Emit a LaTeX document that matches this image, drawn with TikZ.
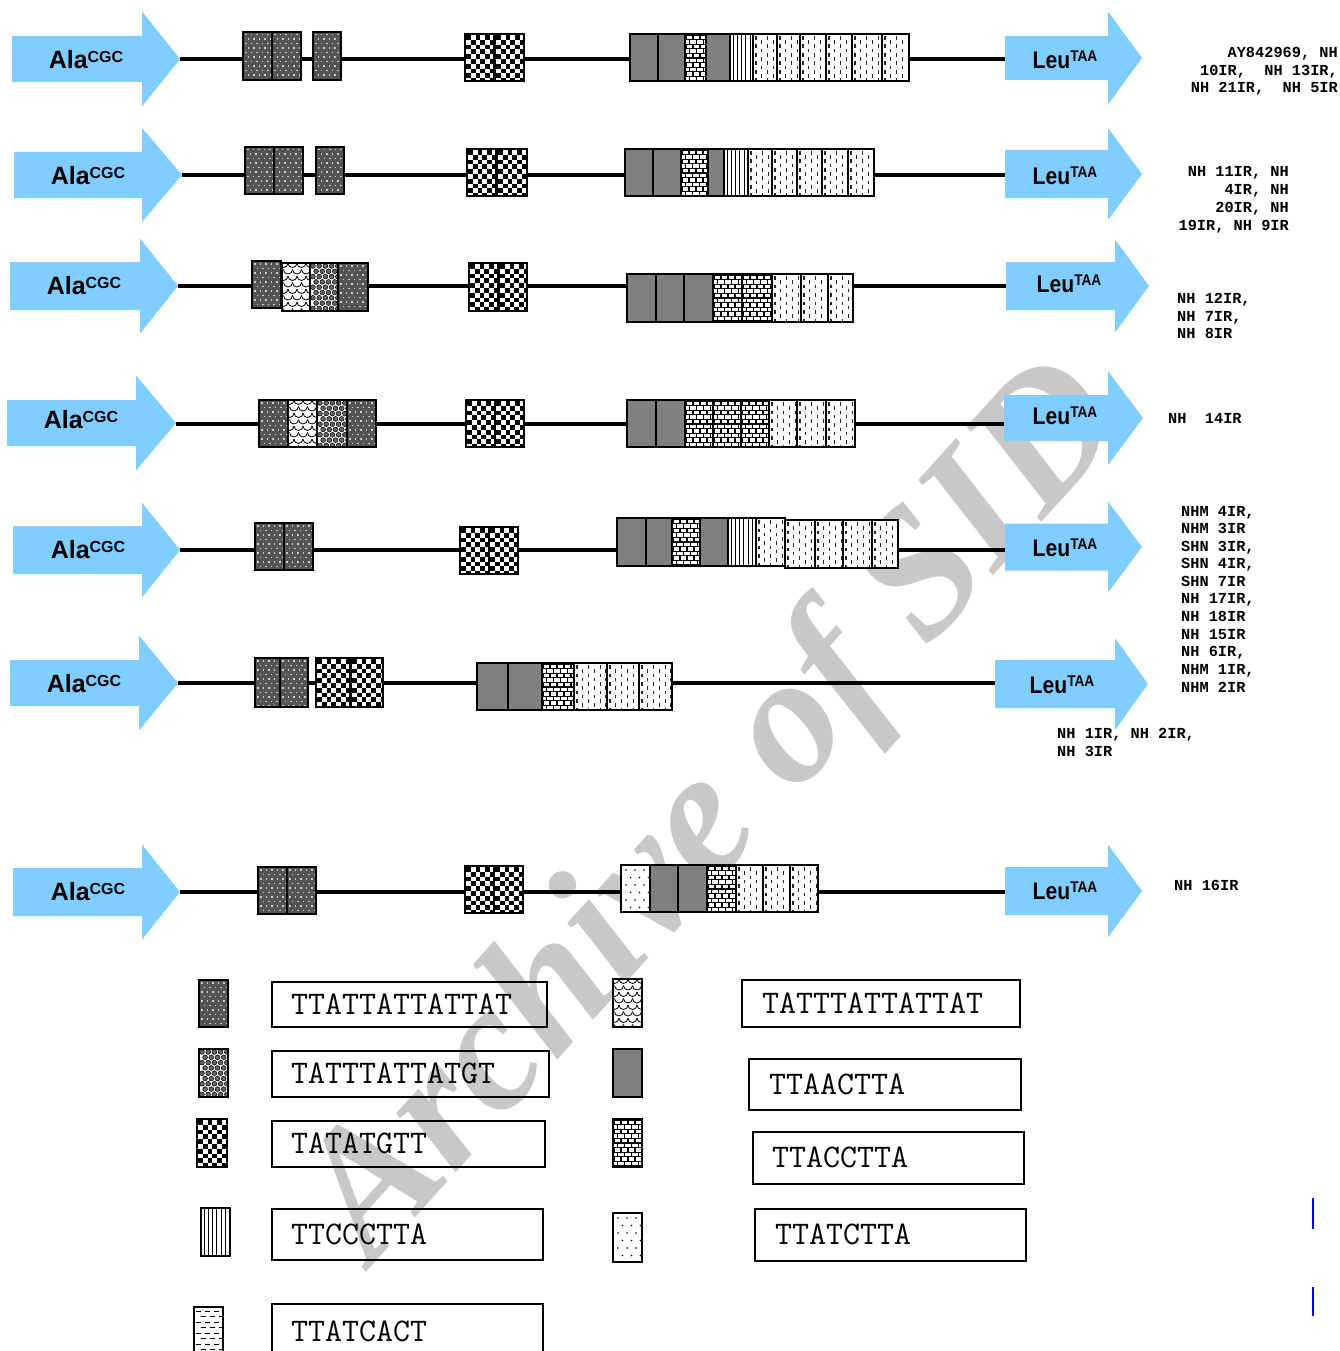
\documentclass[tikz,border=0pt]{standalone}
\usepackage{fontspec}
\usepackage{graphicx}
\newfontfamily\arialf{Liberation Sans}
\newfontfamily\courbf{Liberation Mono}
\newfontfamily\timesf{Liberation Serif}
\definecolor{arrowblue}{RGB}{128,206,255}
\definecolor{darkfill}{RGB}{85,85,85}
\definecolor{midgray}{RGB}{128,128,128}
\definecolor{dotlight}{RGB}{205,205,205}
\definecolor{wmgray}{RGB}{200,200,200}
\definecolor{bubfill}{RGB}{100,100,100}

% pattern fillers: #1 x1, #2 y1, #3 x2, #4 y2
\newcommand\patG[4]{\fill[midgray] (#1,#2) rectangle (#3,#4);}
\newcommand\patD[4]{\fill[darkfill] (#1,#2) rectangle (#3,#4);
 \foreach \j in {0,...,11}{\foreach \i in {0,...,6}{
  \fill[dotlight] ({#1+2+\i*5.5+mod(\j,2)*2.75},{#2+2+\j*4.5}) rectangle ++(1.5,1.5);}}}
\newcommand\patK[4]{\fill[white] (#1,#2) rectangle (#3,#4);
 \foreach \j in {0,...,11}{\foreach \i in {0,...,4}{
  \fill[black] ({#1+1+(2*\i+mod(\j,2))*4.8},{#2+1+\j*4.8}) rectangle ++(4.8,4.8);}}}
\newcommand\patB[4]{\fill[white] (#1,#2) rectangle (#3,#4);
 \foreach \j in {0,...,10}{\foreach \i in {0,...,5}{
  \filldraw[fill=bubfill, draw=black, line width=0.5pt] ({#1+3+\i*6.2+mod(\j,2)*3.1},{#2+3+\j*5.3}) circle[radius=2.4pt];}}}
\newcommand\patS[4]{\fill[white] (#1,#2) rectangle (#3,#4);
 \foreach \j in {0,...,8}{\foreach \i in {0,...,4}{
  \draw[line width=0.8pt] ({#1-3+\i*9+mod(\j,2)*4.5},{#2+\j*6.5}) arc[start angle=180, end angle=360, radius=4.5pt];}}}
\newcommand\patR[4]{\fill[white] (#1,#2) rectangle (#3,#4);
 \foreach \j in {0,...,11}{
  \draw[line width=1.1pt] (#1,{#2+1+\j*4.6}) -- (#3,{#2+1+\j*4.6});
  \foreach \i in {0,...,5}{
   \draw[line width=1.1pt] ({#1+1+\i*7+mod(\j,2)*3.5},{#2+1+\j*4.6}) -- ++(0,4.6);}}}
\newcommand\patV[4]{\fill[white] (#1,#2) rectangle (#3,#4);
 \foreach \i in {0,...,9}{\draw[line width=1pt] ({#1+3+\i*4.3},#2) -- ({#1+3+\i*4.3},#4);}}
\newcommand\patH[4]{\fill[white] (#1,#2) rectangle (#3,#4);
 \foreach \j in {0,...,7}{\foreach \i in {0,...,6}{
  \draw[line width=1.1pt, black!85] ({#1+3+\i*5.8},{#2+2+\j*8.5+mod(\i,2)*4.2}) -- ++(0,3.6);}}}
\newcommand\patP[4]{\fill[white] (#1,#2) rectangle (#3,#4);
 \foreach \j in {0,...,7}{\foreach \i in {0,...,4}{
  \fill ({#1+5+\i*9+mod(\j,2)*4.5},{#2+5+\j*7.5}) circle[radius=0.8pt];}}}
\newcommand\patE[4]{\fill[white] (#1,#2) rectangle (#3,#4);
 \foreach \j in {0,...,12}{\foreach \i in {0,...,4}{
  \draw[line width=0.9pt] ({#1+2+\i*9+mod(\j,2)*4.5},{#2+4+\j*5.5}) -- ++(5,0);}}}

\newcommand\pbox[5]{%
 \begin{scope}
  \clip (#2,#3) rectangle (#4,#5);
  \csname pat#1\endcsname{#2}{#3}{#4}{#5}
 \end{scope}
 \draw[boxline] (#2,#3) rectangle (#4,#5);}

% arrow: #1 name, #2 x1, #3 xhead, #4 xtip, #5 yc, #6 body half, #7 head half
\newcommand\bigarrow[7]{%
 \fill[arrowblue] (#2,#5-#6) -- (#3,#5-#6) -- (#3,#5-#7) -- (#4,#5) -- (#3,#5+#7)
   -- (#3,#5+#6) -- (#2,#5+#6) -- cycle;
 \coordinate (#1tip) at (#4,#5);
 \coordinate (#1tail) at (#2,#5);}

\newcommand\alatxt{{\fontsize{25}{25}\selectfont Ala\raisebox{6.5pt}{\fontsize{16}{16}\selectfont CGC}}}
\newcommand\leutxt{\scalebox{0.88}[1]{\fontsize{24}{24}\selectfont Leu\raisebox{6.5pt}{\fontsize{15.5}{15.5}\selectfont TAA}}}

\tikzset{
 boxline/.style={draw=black, line width=1.8pt},
 dnaline/.style={line width=4.5pt, draw=black},
 amino/.style={font=\arialf\bfseries, inner sep=0pt},
 idl/.style={font=\courbf\bfseries\fontsize{15.3}{17}\selectfont, inner sep=0pt},
 legbox/.style={draw=black, line width=1.6pt, inner sep=0pt, anchor=north west},
 legtext/.style={font=\ttfamily\fontsize{33}{33}\selectfont, inner sep=0pt, anchor=west},
 wm/.style={font=\timesf\bfseries\itshape\fontsize{182}{182}\selectfont, text=wmgray, inner sep=0pt},
}

\begin{document}
\begin{tikzpicture}[x=1pt,y=-1pt]
\useasboundingbox (0,0) rectangle (1339,1351);
\clip (0,0) rectangle (1339,1351);
\fill[white] (0,0) rectangle (1339,1351);

% watermark
\node[wm, rotate=48] (wmark) at (718,815) {Archive of SID};

% arrows
\bigarrow{A1}{12}{142}{180}{59}{23}{47.5}
\bigarrow{L1}{1005}{1108}{1142}{58}{22}{46.5}
\bigarrow{A2}{14}{142}{182}{175}{23}{47}
\bigarrow{L2}{1005}{1108}{1142}{174}{24}{46}
\bigarrow{A3}{10}{140}{178}{286}{24}{47.5}
\bigarrow{L3}{1006}{1115}{1149}{286}{24}{46.5}
\bigarrow{A4}{7}{136}{176}{423}{23}{47.5}
\bigarrow{L4}{1004}{1108}{1143}{418}{23}{47}
\bigarrow{A5}{13}{142}{180}{550}{24}{47.5}
\bigarrow{L5}{1005}{1108}{1142}{547}{23.5}{45.5}
\bigarrow{A6}{10}{139}{178}{683}{23}{47.5}
\bigarrow{L6}{995}{1115}{1148}{684}{24}{46}
\bigarrow{A7}{13}{142}{180}{892}{24}{47.5}
\bigarrow{L7}{1005}{1108}{1142}{891}{24}{46.5}

% DNA lines
\draw[dnaline] (A1tip) -- (A1tip -| L1tail);
\draw[dnaline] (A2tip) -- (A2tip -| L2tail);
\draw[dnaline] (A3tip) -- (A3tip -| L3tail);
\draw[dnaline] (176,424) coordinate (A4line) -- (A4line -| L4tail);
\draw[dnaline] (A5tip) -- (A5tip -| L5tail);
\draw[dnaline] (A6tip) -- (A6tip -| L6tail);
\draw[dnaline] (A7tip) -- (A7tip -| L7tail);

% arrow labels
\node[amino] (ala1) at (86,60) {\alatxt};
\node[amino] (leu1) at (1065,60) {\leutxt};
\node[amino] (ala2) at (88,176) {\alatxt};
\node[amino] (leu2) at (1065,176) {\leutxt};
\node[amino] (ala3) at (84,286) {\alatxt};
\node[amino] (leu3) at (1069,284) {\leutxt};
\node[amino] (ala4) at (81,420) {\alatxt};
\node[amino] (leu4) at (1065,416) {\leutxt};
\node[amino] (ala5) at (88,550) {\alatxt};
\node[amino] (leu5) at (1065,548) {\leutxt};
\node[amino] (ala6) at (84,684) {\alatxt};
\node[amino] (leu6) at (1062,685) {\leutxt};
\node[amino] (ala7) at (88,892) {\alatxt};
\node[amino] (leu7) at (1065,891) {\leutxt};

% row 1
\pbox{D}{243}{32}{272}{80}
\pbox{D}{272}{32}{301}{80}
\pbox{D}{313}{32}{341}{80}
\pbox{K}{465}{34}{494}{81}
\pbox{K}{495}{34}{524}{81}
\pbox{G}{630}{34}{658}{81}
\pbox{G}{658}{34}{685}{81}
\pbox{R}{685}{34}{706}{81}
\pbox{G}{706}{34}{730}{81}
\pbox{V}{730}{34}{753}{81}
\pbox{H}{753}{34}{777}{81}
\pbox{H}{777}{34}{800}{81}
\pbox{H}{800}{34}{826}{81}
\pbox{H}{826}{34}{852}{81}
\pbox{H}{852}{34}{882}{81}
\pbox{H}{882}{34}{909}{81}

% row 2
\pbox{D}{245}{147}{274}{194}
\pbox{D}{274}{147}{303}{194}
\pbox{D}{316}{147}{344}{194}
\pbox{K}{467}{149}{496}{196}
\pbox{K}{497}{149}{527}{196}
\pbox{G}{625}{149}{653}{196}
\pbox{G}{653}{149}{681}{196}
\pbox{R}{681}{149}{708}{196}
\pbox{G}{708}{149}{724}{196}
\pbox{V}{724}{149}{748}{196}
\pbox{H}{748}{149}{772}{196}
\pbox{H}{772}{149}{797}{196}
\pbox{H}{797}{149}{822}{196}
\pbox{H}{822}{149}{848}{196}
\pbox{H}{848}{149}{874}{196}

% row 3
\pbox{D}{252}{261}{281}{308}
\pbox{S}{282}{263}{310}{311}
\pbox{B}{310}{263}{338}{311}
\pbox{D}{338}{263}{368}{311}
\pbox{K}{469}{263}{498}{311}
\pbox{K}{499}{263}{527}{311}
\pbox{G}{627}{274}{656}{322}
\pbox{G}{656}{274}{684}{322}
\pbox{G}{684}{274}{713}{322}
\pbox{R}{713}{274}{742}{322}
\pbox{R}{742}{274}{772}{322}
\pbox{H}{772}{274}{801}{322}
\pbox{H}{801}{274}{828}{322}
\pbox{H}{828}{274}{853}{322}

% row 4
\pbox{D}{259}{400}{288}{447}
\pbox{S}{288}{400}{317}{447}
\pbox{B}{317}{400}{347}{447}
\pbox{D}{347}{400}{376}{447}
\pbox{K}{466}{400}{495}{447}
\pbox{K}{495}{400}{524}{447}
\pbox{G}{627}{400}{656}{447}
\pbox{G}{656}{400}{685}{447}
\pbox{R}{685}{400}{713}{447}
\pbox{R}{713}{400}{741}{447}
\pbox{R}{741}{400}{769}{447}
\pbox{H}{769}{400}{797}{447}
\pbox{H}{797}{400}{826}{447}
\pbox{H}{826}{400}{855}{447}

% row 5
\pbox{D}{255}{523}{284}{570}
\pbox{D}{284}{523}{313}{570}
\pbox{K}{460}{527}{489}{574}
\pbox{K}{489}{527}{518}{574}
\pbox{G}{617}{518}{646}{566}
\pbox{G}{646}{518}{672}{566}
\pbox{R}{672}{518}{700}{566}
\pbox{G}{700}{518}{728}{566}
\pbox{V}{728}{518}{756}{566}
\pbox{H}{756}{518}{785}{566}
\pbox{H}{785}{520}{815}{568}
\pbox{H}{815}{520}{843}{568}
\pbox{H}{843}{520}{872}{568}
\pbox{H}{872}{520}{898}{568}

% row 6
\pbox{D}{255}{658}{280}{707}
\pbox{D}{280}{658}{308}{707}
\pbox{K}{316}{658}{350}{707}
\pbox{K}{351}{658}{383}{707}
\pbox{G}{477}{663}{508}{710}
\pbox{G}{508}{663}{542}{710}
\pbox{R}{542}{663}{574}{710}
\pbox{H}{574}{663}{607}{710}
\pbox{H}{607}{663}{639}{710}
\pbox{H}{639}{663}{672}{710}

% row 7
\pbox{D}{258}{867}{287}{914}
\pbox{D}{287}{867}{316}{914}
\pbox{K}{465}{866}{494}{913}
\pbox{K}{494}{866}{523}{913}
\pbox{P}{621}{865}{650}{912}
\pbox{G}{650}{865}{678}{912}
\pbox{G}{678}{865}{707}{912}
\pbox{R}{707}{865}{736}{912}
\pbox{H}{736}{865}{763}{912}
\pbox{H}{763}{865}{790}{912}
\pbox{H}{790}{865}{818}{912}

% right-hand labels
\node[idl, anchor=base east] (n1a) at (1338,58) {AY842969, NH};
\node[idl, anchor=base east] (n1b) at (1338,76) {10IR,~~NH 13IR,};
\node[idl, anchor=base east] (n1c) at (1338,93) {NH 21IR,~~NH 5IR};
\node[idl, anchor=base east] (n2a) at (1289,177) {NH 11IR, NH};
\node[idl, anchor=base east] (n2b) at (1289,195) {4IR, NH};
\node[idl, anchor=base east] (n2c) at (1289,212) {20IR, NH};
\node[idl, anchor=base east] (n2d) at (1289,230) {19IR, NH 9IR};
\node[idl, anchor=base west] (n3a) at (1177,303) {NH 12IR,};
\node[idl, anchor=base west] (n3b) at (1177,321) {NH 7IR,};
\node[idl, anchor=base west] (n3c) at (1177,338) {NH 8IR};
\node[idl, anchor=base west] (n4a) at (1168,423) {NH~~14IR};
\node[idl, anchor=base west] (n5a) at (1181,516) {NHM 4IR,};
\node[idl, anchor=base west] (n5b) at (1181,533) {NHM 3IR};
\node[idl, anchor=base west] (n5c) at (1181,551) {SHN 3IR,};
\node[idl, anchor=base west] (n5d) at (1181,568) {SHN 4IR,};
\node[idl, anchor=base west] (n5e) at (1181,586) {SHN 7IR};
\node[idl, anchor=base west] (n5f) at (1181,603) {NH 17IR,};
\node[idl, anchor=base west] (n5g) at (1181,621) {NH 18IR};
\node[idl, anchor=base west] (n5h) at (1181,639) {NH 15IR};
\node[idl, anchor=base west] (n5i) at (1181,656) {NH 6IR,};
\node[idl, anchor=base west] (n5j) at (1181,674) {NHM 1IR,};
\node[idl, anchor=base west] (n5k) at (1181,692) {NHM 2IR};
\node[idl, anchor=base west] (n6a) at (1057,738) {NH 1IR, NH 2IR,};
\node[idl, anchor=base west] (n6b) at (1057,756) {NH 3IR};
\node[idl, anchor=base west] (n7a) at (1174,890) {NH 16IR};

% legend icons
\pbox{D}{199}{980}{228}{1027}
\pbox{B}{199}{1049}{228}{1097}
\pbox{K}{197}{1119}{227}{1167}
\pbox{V}{201}{1208}{230}{1256}
\pbox{E}{194}{1307}{223}{1362}
\pbox{S}{613}{979}{642}{1027}
\pbox{G}{613}{1049}{642}{1097}
\pbox{R}{613}{1119}{642}{1167}
\pbox{P}{613}{1213}{642}{1262}

% legend boxes
\node[legbox, minimum width=275pt, minimum height=45pt] (b1) at (271,981) {};
\node[legtext] (t1) at ([xshift=20pt]b1.west) {TTATTATTATTAT};
\node[legbox, minimum width=277pt, minimum height=46pt] (b2) at (271,1050) {};
\node[legtext] (t2) at ([xshift=20pt]b2.west) {TATTTATTATGT};
\node[legbox, minimum width=273pt, minimum height=46pt] (b3) at (271,1120) {};
\node[legtext] (t3) at ([xshift=20pt]b3.west) {TATATGTT};
\node[legbox, minimum width=271pt, minimum height=51pt] (b4) at (271,1208) {};
\node[legtext] (t4) at ([xshift=20pt]b4.west) {TTCCCTTA};
\node[legbox, minimum width=271pt, minimum height=56pt] (b5) at (271,1303) {};
\node[legtext] (t5) at ([xshift=20pt]b5.west) {TTATCACT};
\node[legbox, minimum width=278pt, minimum height=47pt] (c1) at (741,979) {};
\node[legtext] (u1) at ([xshift=21pt]c1.west) {TATTTATTATTAT};
\node[legbox, minimum width=272pt, minimum height=51pt] (c2) at (748,1058) {};
\node[legtext] (u2) at ([xshift=21pt]c2.west) {TTAACTTA};
\node[legbox, minimum width=271pt, minimum height=52pt] (c3) at (752,1131) {};
\node[legtext] (u3) at ([xshift=20pt]c3.west) {TTACCTTA};
\node[legbox, minimum width=271pt, minimum height=52pt] (c4) at (754,1208) {};
\node[legtext] (u4) at ([xshift=21pt]c4.west) {TTATCTTA};

% stray blue marks
\draw[blue, line width=1.8pt] (1313,1198) coordinate (bm1) -- (1313,1229) coordinate (bm2);
\draw[blue, line width=1.8pt] (1313,1287) coordinate (bm3) -- (1313,1316) coordinate (bm4);
\end{tikzpicture}
\end{document}
